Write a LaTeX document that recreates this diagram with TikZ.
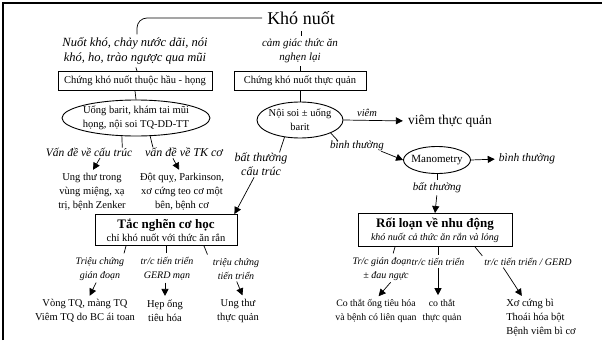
\documentclass[tikz,border=0pt]{standalone}
\usepackage{fontspec}
\setmainfont{Liberation Serif}
\usetikzlibrary{shapes.geometric,arrows.meta}
\begin{document}
\begin{tikzpicture}[x=1pt,y=-1pt,
  every node/.style={inner sep=0pt, align=center},
  txt/.style={font=\fontsize{10.5}{14}\selectfont},
  small/.style={font=\fontsize{9.8}{14}\selectfont},
  itx/.style={font=\fontsize{11}{14}\selectfont\itshape},
  lbl/.style={font=\fontsize{10}{14}\selectfont\itshape},
  boxed/.style={draw, line width=0.9pt, inner sep=0pt},
  oval/.style={draw, ellipse, line width=0.9pt, inner sep=0pt},
  link/.style={line width=0.7pt},
  arr/.style={line width=0.7pt, -{Triangle[length=7pt,width=7pt]}},
]
\useasboundingbox (0,0) rectangle (602,340);
% frame
\draw[line width=1.2pt] (3,340) -- (3,3) -- (602,3);

% top level
\node[font=\fontsize{18}{20}\selectfont] (title) at (301,18) {Khó nuốt};
\node[font=\fontsize{12.5}{15}\selectfont\itshape] (symL) at (135,51) {Nuốt khó, chảy nước dãi, nói\\khó, ho, trào ngược qua mũi};
\node[itx] (symR) at (300,51) {cảm giác thức ăn\\nghẹn lại};

\node[boxed, txt, minimum width=154, minimum height=19] (boxL) at (135,81) {Chứng khó nuốt thuộc hầu - họng};
\node[boxed, txt, minimum width=132, minimum height=19] (boxR) at (300,81) {Chứng khó nuốt thực quản};

% ellipses
\node[oval, minimum width=148, minimum height=36] (ellL) at (136,118) {};
\node[txt] (ellLt) at (ellL) {Uống barit, khám tai mũi\\họng, nội soi TQ-DD-TT};
\node[oval, minimum width=86, minimum height=36] (ellR) at (300,120) {};
\node[txt] (ellRt) at (ellR) {Nội soi ± uống\\barit};

% oesophageal branch
\node[font=\fontsize{10.5}{13}\selectfont\itshape] (viemLbl) at (367,113) {viêm};
\node[font=\fontsize{13.5}{16}\selectfont] (viemTQ) at (450,121) {viêm thực quản};
\node[itx] (btLbl) at (357,146) {bình thường};
\node[oval, minimum width=67, minimum height=27] (mano) at (437,160) {};
\node[font=\fontsize{11}{13}\selectfont] (manoT) at (mano) {Manometry};
\node[font=\fontsize{11.5}{14}\selectfont\itshape] (bt2) at (527,159) {bình thường};
\node[itx] (batR) at (437,188) {bất thường};
\node[boxed, minimum width=154, minimum height=33] (boxMot) at (435,230)
  {{\fontsize{13}{15}\selectfont\bfseries Rối loạn về nhu động}\\[1pt]{\fontsize{10}{12}\selectfont\itshape khó nuốt cả thức ăn rắn và lỏng}};

\node[font=\fontsize{12}{14}\selectfont\itshape] (batL) at (261,164) {bất thường\\cấu trúc};

% pharyngeal branch
\node[font=\fontsize{11.5}{14}\selectfont\itshape] (vdA) at (89,152) {Vấn đề về cấu trúc};
\node[font=\fontsize{12}{14}\selectfont\itshape] (vdB) at (184,152) {vấn đề về TK cơ};
\node[txt] (utA) at (92,192) {Ung thư trong\\vùng miệng, xạ\\trị, bệnh Zenker};
\node[txt] (dqB) at (182,192) {Đột quỵ, Parkinson,\\xơ cứng teo cơ một\\bên, bệnh cơ};

\node[boxed, minimum width=142, minimum height=31] (boxObs) at (166,230)
  {{\fontsize{13}{15}\selectfont\bfseries Tắc nghẽn cơ học}\\[1pt]{\fontsize{10.5}{12}\selectfont chỉ khó nuốt với thức ăn rắn}};

% mechanical obstruction outcomes
\node[lbl] (l1) at (100,269) {Triệu chứng\\gián đoạn};
\node[lbl] (l2) at (167,269) {tr/c tiến triển\\GERD mạn};
\node[lbl] (l3) at (236,269) {triệu chứng\\tiến triển};
\node[txt] (o1) at (85,311) {Vòng TQ, màng TQ\\Viêm TQ do BC ái toan};
\node[txt] (o2) at (165,311) {Hẹp ống\\tiêu hóa};
\node[txt] (o3) at (238,311) {Ung thư\\thực quản};

% motility outcomes
\node[lbl] (m1) at (382,269) {Tr/c gián đoạn\\\hspace*{8pt}± đau ngực};
\node[lbl] (m2) at (438,262) {tr/c tiến triển};
\node[lbl] (m3) at (528,262) {tr/c tiến triển / GERD};
\node[small] (r1) at (376,311) {Co thắt ống tiêu hóa\\và bệnh có liên quan};
\node[small] (r2) at (442,311) {co thắt\\thực quản};
\node[txt, align=left] (r3) at (541,318) {Xơ cứng bì\\Thoái hóa bột\\Bệnh viêm bì cơ};

% ---- connectors ----
\draw[link, rounded corners=10pt, shorten <=5pt, shorten >=3pt] (title.west) -| ([xshift=2pt]symL.north);
\draw[link, shorten <=6pt, shorten >=3pt] (title.south) -- (title.south |- symR.north);
\draw[link, shorten <=3pt] (symL.south -| boxL.north) -- ([xshift=2pt]boxL.north);
\draw[link, shorten <=3pt] (symR.south) -- (symR.south |- boxR.north);
\draw[link] (boxL.south) -- (ellL.north);
\draw[link] (boxR.south) -- (ellR.north);

\draw[arr, shorten >=5pt] (ellR.east) -- (viemTQ.west);
\draw[link] (ellR.south east) -- ([xshift=8pt]btLbl.north west);
\draw[arr] ([xshift=-3pt]btLbl.south east) -- (mano.west);
\draw[arr, shorten >=4pt] (mano.east) -- (bt2.west);
\draw[link, shorten >=3pt] (mano.south) -- (batR.north);
\draw[arr, shorten <=2pt] (batR.south) -- (boxMot.north);

\draw[link] (ellR.228) -- ([xshift=-8pt]batL.north east);
\draw[arr, shorten <=2pt] ([xshift=-6pt]batL.south) -- ([xshift=-3pt]boxObs.north east);

\draw[link] (ellL.232) -- ([xshift=-10pt]vdA.north east);
\draw[link] (ellL.308) -- ([xshift=8pt]vdB.north west);
\draw[arr, shorten <=2pt, shorten >=4pt] ([xshift=12pt]vdA.south) -- ([xshift=-1pt]utA.north);
\draw[arr, shorten <=2pt, shorten >=4pt] ([xshift=-12pt]vdB.south) -- ([xshift=-1pt]dqB.north);

\draw[link, shorten >=4pt] ([xshift=-40pt]boxObs.south) -- ([xshift=23pt]l1.north);
\draw[link, shorten >=4pt] (boxObs.south) -- (boxObs.south |- l2.north);
\draw[link, shorten >=4pt] ([xshift=38pt]boxObs.south) -- ([xshift=-27pt]l3.north);
\draw[arr, shorten <=2pt, shorten >=4pt] ([xshift=-3pt]l1.south) -- ([xshift=3pt]o1.north);
\draw[arr, shorten <=2pt, shorten >=4pt] (l2.south -| o2.north) -- (o2.north);
\draw[arr, shorten <=2pt, shorten >=4pt] (l3.south) -- ([xshift=6pt]o3.north);

\draw[link, shorten >=4pt] ([xshift=-40pt]boxMot.south) -- ([xshift=10pt]m1.north);
\draw[link, shorten >=3pt] (boxMot.south -| m2.north) -- (m2.north);
\draw[link, shorten >=3pt] ([xshift=40pt]boxMot.south) -- (m3.north west);
\draw[arr, shorten <=2pt, shorten >=4pt] ([xshift=10pt]m1.south) -- (r1.north);
\draw[arr, shorten <=2pt, shorten >=4pt] (m2.south) -- (m2.south |- r2.north);
\draw[arr, shorten <=2pt, shorten >=4pt] ([xshift=18pt]m3.south west) -- ([xshift=-17pt]r3.north);
\end{tikzpicture}
\end{document}
